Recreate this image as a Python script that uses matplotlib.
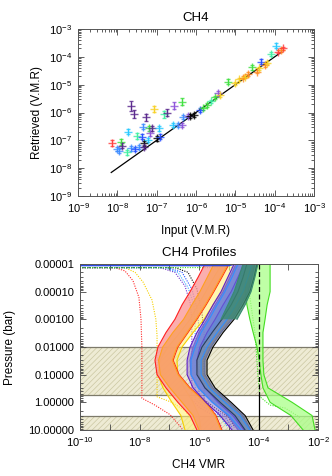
import numpy as np
import matplotlib
matplotlib.use("Agg")
import matplotlib.pyplot as plt
from matplotlib.ticker import FixedLocator, FuncFormatter, LogLocator, NullFormatter

plt.rcParams['font.family'] = ['Liberation Sans', 'DejaVu Sans']
plt.rcParams['mathtext.default'] = 'regular'
plt.rcParams['hatch.linewidth'] = 0.5

# ---------------- top panel data (log10 values) ----------------
in_log = [-8.14, -7.91, -8.02, -7.95, -7.88, -7.76, -7.74, -7.64, -7.58, -7.51,
          -7.64, -7.55, -7.44, -7.36, -7.38, -7.32, -7.31, -7.27, -7.19, -7.21,
          -7.17, -7.11, -7.07, -7.00, -6.93, -6.92, -6.81, -6.73, -6.56, -6.36,
          -6.58, -6.47, -6.36, -6.32, -6.20, -6.14, -6.05, -5.90, -5.83, -5.73,
          -5.63, -5.52, -5.45, -5.39, -5.19, -5.01, -4.90, -4.81, -4.75, -4.67,
          -4.57, -4.46, -4.39, -4.35, -4.25, -4.20, -4.10, -3.97, -3.91, -3.85, -3.78]
ret_log = [-7.09, -7.05, -7.32, -7.37, -7.19, -7.43, -6.69, -5.76, -6.05, -6.85,
           -7.29, -7.32, -7.23, -6.51, -6.87, -7.11, -7.23, -6.17, -6.57, -6.99,
           -6.75, -6.57, -5.87, -6.93, -6.57, -6.87, -6.07, -6.00, -5.76, -5.61,
           -6.45, -6.45, -6.45, -6.17, -6.11, -6.12, -6.09, -5.91, -5.85, -5.73,
           -5.60, -5.46, -5.31, -5.37, -4.89, -4.95, -4.81, -4.75, -4.71, -4.62,
           -4.38, -4.53, -4.41, -4.17, -4.29, -4.21, -3.90, -3.60, -3.81, -3.75, -3.69]
err_dex = [0.10, 0.10, 0.08, 0.08, 0.10, 0.08, 0.10, 0.18, 0.14, 0.10,
           0.08, 0.08, 0.08, 0.10, 0.08, 0.10, 0.08, 0.12, 0.10, 0.08,
           0.10, 0.10, 0.12, 0.08, 0.10, 0.08, 0.14, 0.12, 0.12, 0.12,
           0.08, 0.08, 0.08, 0.08, 0.06, 0.06, 0.06, 0.06, 0.06, 0.06,
           0.06, 0.06, 0.10, 0.06, 0.08, 0.06, 0.06, 0.06, 0.06, 0.06,
           0.08, 0.06, 0.06, 0.10, 0.06, 0.06, 0.08, 0.08, 0.06, 0.06, 0.06]
pt_color = ['re', 'gr', 'lb', 'lb', 'dp', 'mi', 'cy', 'dp', 'dp', 'mi',
            'lb', 'bl', 'lb', 'lb', 'bl', 'bk', 'dp', 'dp', 'gr', 'cy',
            'pu', 'dp', 'ye', 'bk', 'cy', 'bl', 'mi', 'dp', 'pu', 'gr',
            'cy', 'lb', 'pu', 'lb', 'pu', 'bk', 'bk', 'bl', 'gr', 'gr',
            'mi', 'gr', 'pu', 'ye', 'gr', 'ye', 'ye', 'or', 'ye', 'or',
            'gr', 'or', 'ye', 'bl', 'or', 'ye', 'mi', 'cy', 're', 'or', 're']
palette = {'dp': '#55228a', 'pu': '#8a50d8', 'bl': '#2048ff', 'lb': '#3c8cff',
           'cy': '#20c8ff', 'mi': '#3cf0a0', 'gr': '#3ce03c', 'ye': '#f8d020',
           'or': '#ff8a20', 're': '#ff3a3a', 'bk': '#000000'}
one_to_one = [7e-9, 1.5e-4]

# ---------------- bottom panel data ----------------
P_LEV = [1e-5, 3e-5, 1e-4, 3e-4, 1e-3, 3e-3, 1e-2, 3e-2, 0.1, 0.3, 1.0, 3.0, 10.0]
# band edges, log10 VMR
RED_LO = [-5.80, -6.03, -6.30, -6.57, -6.81, -7.11, -7.38, -7.48, -7.41, -7.11, -6.71, -6.30, -6.07]
RED_HI = [-4.99, -5.23, -5.50, -5.76, -6.07, -6.37, -6.71, -6.87, -6.67, -6.30, -5.75, -5.43, -5.23]
ORA_LO = [-5.50, -5.72, -5.97, -6.24, -6.52, -6.88, -7.22, -7.36, -7.30, -6.98, -6.57, -6.20, -6.00]
ORA_HI = [-5.02, -5.26, -5.53, -5.79, -6.10, -6.40, -6.74, -6.90, -6.70, -6.33, -5.78, -5.46, -5.26]
YEL_LO = [-5.23, -5.50, -5.77, -6.03, -6.30, -6.64, -7.04, -7.31, -7.38, -7.21, -6.91, -6.61, -6.47]
YEL_HI = [-4.69, -4.96, -5.23, -5.53, -5.83, -6.20, -6.57, -6.74, -6.71, -6.50, -6.20, -6.00, -5.93]
BLU_LO = [-4.76, -4.96, -5.19, -5.46, -5.73, -6.00, -6.20, -6.30, -6.27, -6.00, -5.53, -5.03, -4.69]
BLU_HI = [-4.12, -4.22, -4.35, -4.59, -4.89, -5.26, -5.60, -5.80, -5.80, -5.53, -4.99, -4.52, -4.25]
PUR_LO = [-4.82, -5.03, -5.26, -5.53, -5.80, -6.07, -6.30, -6.40, -6.40, -6.20, -5.77, -5.29, -4.89]
PUR_HI = [-4.49, -4.69, -4.92, -5.19, -5.46, -5.73, -5.97, -6.07, -6.03, -5.80, -5.36, -4.86, -4.49]
GRY_LO = [-4.39, -4.52, -4.69, -4.92, -5.23, -5.56, -5.90, -6.07, -6.07, -5.80, -5.29, -4.79, -4.45]
GRY_HI = [-4.05, -4.15, -4.29, -4.52, -4.82, -5.19, -5.53, -5.73, -5.73, -5.46, -4.92, -4.45, -4.18]
LBL_LO = [-4.69, -4.89, -5.13, -5.39, -5.66, -5.93, -6.13, -6.27, -6.27, -6.03, -5.56, -4.99, -4.59]
LBL_HI = [-4.22, -4.35, -4.52, -4.76, -5.06, -5.39, -5.73, -5.93, -5.93, -5.66, -5.13, -4.62, -4.29]
TEA_LO = [-4.52, -4.66, -4.82, -5.03, -5.26]
TEA_HI = [-4.02, -4.12, -4.25, -4.45, -4.72]
GRN_LO = [-4.35, -4.42, -4.45, -4.39, -4.29, -4.18, -4.05, -3.98, -3.92, -3.85, -3.61, -2.91, -2.50]
GRN_HI = [-3.61, -3.61, -3.61, -3.71, -3.78, -3.85, -3.85, -3.85, -3.82, -3.68, -2.87, -2.20, -2.10]

# prior profiles (dotted), log10 VMR vs pressure
RED_PR_P = [1.35e-5, 1.35e-5, 1.78e-5, 4e-5, 1.6e-4, 1e-3, 1e-2, 0.71, 1.26, 2.8, 8.9]
RED_PR_X = [-10.5, -8.82, -8.49, -8.22, -8.02, -7.95, -7.92, -7.92, -7.48, -6.97, -6.57]
YEL_PR_P = [1.35e-5, 1.35e-5, 2e-5, 4.5e-5, 2e-4, 1e-3, 4e-3, 0.63, 1.0, 2.0, 6.3]
YEL_PR_X = [-10.5, -8.49, -8.15, -7.88, -7.58, -7.45, -7.41, -7.41, -6.91, -6.47, -6.13]
PUR_PR_P = [1.35e-5, 1.35e-5, 2e-5, 6.3e-5, 2.5e-4, 1e-3, 0.8, 1.6, 3.2, 8.0]
PUR_PR_X = [-10.5, -7.31, -6.81, -6.47, -6.30, -6.24, -6.24, -5.97, -5.46, -5.23]
CYA_PR_P = [1.35e-5, 1.35e-5, 2e-5, 7e-5, 3e-4, 1.5e-3, 0.8, 1.6, 3.2, 8.0]
CYA_PR_X = [-10.5, -7.14, -6.71, -6.37, -6.17, -6.13, -6.13, -5.80, -5.29, -5.03]
BLU_PR_P = [1.35e-5, 1.35e-5, 2e-5, 8e-5, 4e-4, 2e-3, 0.8, 1.6, 3.2, 8.0]
BLU_PR_X = [-10.5, -7.04, -6.57, -6.24, -6.07, -6.00, -6.00, -5.63, -5.13, -4.89]
BLK_PR_P = [1.35e-5, 1.35e-5, 2e-5, 8e-5, 6e-4, 3e-3, 0.8, 1.6, 3.2, 8.0]
BLK_PR_X = [-10.5, -6.81, -6.37, -6.07, -5.90, -5.83, -5.83, -5.46, -5.03, -4.79]
GRN_PR_P = [1.35e-5, 1.35e-5, 4e-5, 1.6e-4, 3e-3, 0.1, 0.63, 1.26, 1.6, 3.5]
GRN_PR_X = [-10.5, -4.72, -4.45, -4.29, -4.12, -4.02, -3.95, -3.61, -3.11, -2.61]
BLU_TOP_P = [1.15e-5, 1.15e-5, 1e-5]
BLU_TOP_X = [-10.5, -5.0, -4.76]

HATCH_BANDS = [(1e-2, 0.56), (3.0, 10.0)]
TRUE_VMR = 1e-4
TRUE_SPLIT_P = 0.6

# ---------------- figure ----------------
W, H = 332, 476
fig = plt.figure(figsize=(W / 100, H / 100), dpi=100)
ax1 = fig.add_axes([78 / W, 1 - 196 / H, 236 / W, 167 / H])
ax2 = fig.add_axes([80 / W, 1 - 430 / H, 238 / W, 166 / H])

FS = 8

# ---- top panel ----
ax1.set_xscale('log')
ax1.set_yscale('log')
ax1.plot(one_to_one, one_to_one, color='black', lw=0.9, zorder=2)
for lx, ly, e, c in zip(in_log, ret_log, err_dex, pt_color):
    x = 10.0 ** lx
    y = 10.0 ** ly
    ax1.errorbar([x], [y], yerr=[[y - y / 10 ** e], [y * 10 ** e - y]], fmt='+',
                 ms=6, mew=1.0, color=palette[c], elinewidth=0.8, capsize=1.5,
                 capthick=0.8, alpha=0.8, zorder=3)
ax1.set_xlim(1e-9, 1e-3)
ax1.set_ylim(1e-9, 1e-3)
ax1.xaxis.set_major_locator(LogLocator(base=10, numticks=20))
ax1.yaxis.set_major_locator(LogLocator(base=10, numticks=20))
ax1.xaxis.set_minor_locator(LogLocator(base=10, subs=np.arange(2, 10), numticks=20))
ax1.yaxis.set_minor_locator(LogLocator(base=10, subs=np.arange(2, 10), numticks=20))
ax1.xaxis.set_minor_formatter(NullFormatter())
ax1.yaxis.set_minor_formatter(NullFormatter())
ax1.tick_params(which='both', direction='in', top=True, right=True, labelsize=FS,
                width=0.6, color='#444444')
ax1.tick_params(which='major', length=4, pad=4)
ax1.tick_params(which='minor', length=2)
ax1.set_title('CH4', fontsize=9.5, pad=6)
ax1.set_xlabel('Input (V.M.R)', fontsize=8.5, va='center')
ax1.set_ylabel('Retrieved (V.M.R)', fontsize=8.5, va='center')
ax1.xaxis.set_label_coords(0.5, -0.21)
ax1.yaxis.set_label_coords(-0.174, 0.5)
for s in ax1.spines.values():
    s.set_linewidth(0.7)
    s.set_color('#555555')

# ---- bottom panel ----
ax2.set_xscale('log')
ax2.set_yscale('log')
for (p0, p1) in HATCH_BANDS:
    ax2.axhspan(p0, p1, facecolor='#eeebd4', edgecolor='#cbc7a2', hatch='//////',
                linewidth=0, zorder=0)
    ax2.axhline(p0, color='#7d7a6a', lw=0.9, zorder=1)
    ax2.axhline(p1, color='#7d7a6a', lw=0.9, zorder=1)

def band(lo, hi, fill, edge, alpha, z, p=P_LEV):
    lo = 10.0 ** np.array(lo)
    hi = 10.0 ** np.array(hi)
    pp = p[:len(lo)]
    ax2.fill_betweenx(pp, lo, hi, facecolor=fill, alpha=alpha, lw=0, zorder=z)
    ax2.plot(lo, pp, color=edge, lw=0.8, zorder=z + 0.1)
    ax2.plot(hi, pp, color=edge, lw=0.8, zorder=z + 0.1)

def prior(px, pp, col):
    ax2.plot(10.0 ** np.array(px), pp, color=col, lw=0.8, ls=(0, (1, 1.2)), zorder=2)

prior(RED_PR_X, RED_PR_P, '#ff2a2a')
prior(YEL_PR_X, YEL_PR_P, '#f5d000')
prior(PUR_PR_X, PUR_PR_P, '#7030d0')
prior(CYA_PR_X, CYA_PR_P, '#30a8ff')
prior(BLU_PR_X, BLU_PR_P, '#2050ff')
prior(BLK_PR_X, BLK_PR_P, '#000000')
prior(GRN_PR_X, GRN_PR_P, '#40e020')

band(GRN_LO, GRN_HI, '#aaff88', '#44dd22', 0.75, 3)
band(YEL_LO, YEL_HI, '#fff07a', '#f5d000', 0.6, 3.2)
band(RED_LO, RED_HI, '#fa9a9a', '#ff2020', 0.8, 3.4)
band(ORA_LO, ORA_HI, '#f8a060', '#ffa020', 0.8, 3.6)
band(BLU_LO, BLU_HI, '#4a62c4', '#2040e0', 0.85, 4.0)
band(PUR_LO, PUR_HI, '#9f86d2', '#6020c8', 0.6, 4.2)
band(GRY_LO, GRY_HI, '#8e8e7e', '#000000', 0.6, 4.4)
band(LBL_LO, LBL_HI, '#6a9ae0', '#2f8fff', 0.4, 4.6)
band(TEA_LO, TEA_HI, '#3a8a70', '#3a8a70', 0.8, 4.8)
ax2.plot(10.0 ** np.array(BLU_TOP_X), BLU_TOP_P, color='#2040e0', lw=0.9, zorder=4.1)

ax2.plot([TRUE_VMR, TRUE_VMR], [1e-5, TRUE_SPLIT_P], color='black', lw=0.9, ls=(0, (4, 2)), zorder=6)
ax2.plot([TRUE_VMR, TRUE_VMR], [TRUE_SPLIT_P, 10.0], color='black', lw=0.9, zorder=6)

ax2.set_xlim(1e-10, 1e-2)
ax2.set_ylim(10.0, 1e-5)
xt = [10.0 ** k for k in range(-10, -1)]
ax2.xaxis.set_major_locator(FixedLocator(xt))
ax2.xaxis.set_minor_locator(FixedLocator([]))
ax2.xaxis.set_major_formatter(FuncFormatter(
    lambda v, pos: r'$10^{%d}$' % round(np.log10(v)) if round(np.log10(v)) % 2 == 0 else ''))
ax2.yaxis.set_major_locator(FixedLocator([1e-5, 1e-4, 1e-3, 1e-2, 1e-1, 1.0, 10.0]))
ax2.yaxis.set_minor_locator(LogLocator(base=10, subs=np.arange(2, 10), numticks=20))
ax2.yaxis.set_minor_formatter(NullFormatter())
ax2.yaxis.set_major_formatter(FuncFormatter(lambda v, pos: '%.5f' % v))
ax2.tick_params(which='both', direction='in', top=True, right=True, labelsize=FS,
                width=0.6, color='#444444')
ax2.tick_params(which='major', length=4, pad=4)
ax2.tick_params(which='minor', length=2)
ax2.set_title('CH4 Profiles', fontsize=9.5, pad=6)
ax2.set_xlabel('CH4 VMR', fontsize=8.5, va='center')
ax2.set_ylabel('Pressure (bar)', fontsize=8.5, va='center')
ax2.xaxis.set_label_coords(0.5, -0.21)
ax2.yaxis.set_label_coords(-0.294, 0.5)
for s in ax2.spines.values():
    s.set_linewidth(0.7)
    s.set_color('#555555')
    s.set_zorder(10)

fig.savefig('out.png', dpi=100)
